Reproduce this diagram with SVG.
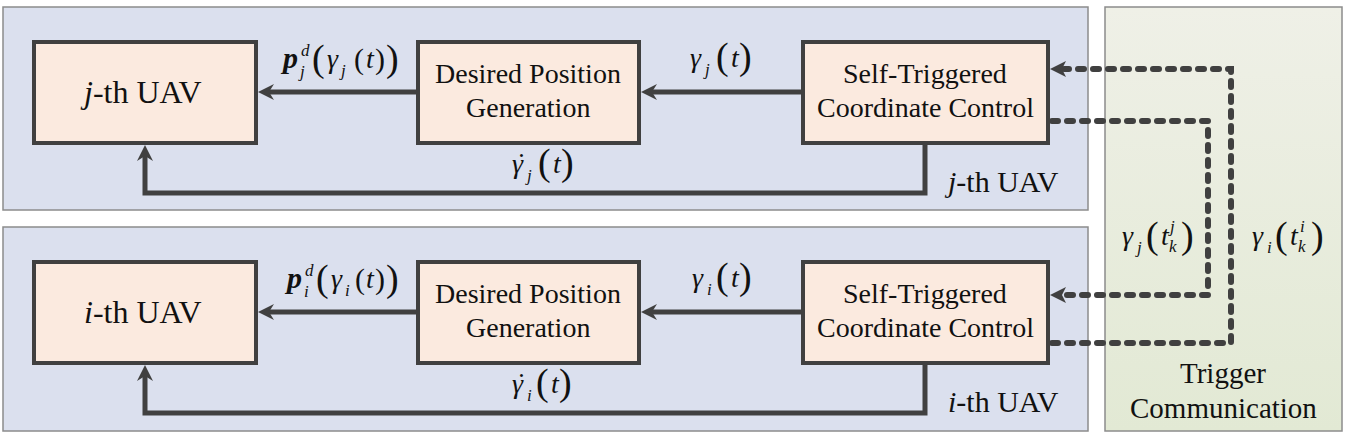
<svg xmlns="http://www.w3.org/2000/svg" width="1348" height="440" viewBox="0 0 1348 440" font-family="Liberation Serif, serif">
<defs>
<linearGradient id="gg" x1="0" y1="0" x2="0" y2="1"><stop offset="0" stop-color="#eff0e7"/><stop offset="1" stop-color="#e2e9d4"/></linearGradient>
<marker id="ah" markerUnits="userSpaceOnUse" markerWidth="18" markerHeight="16" refX="6" refY="8" orient="auto"><path d="M0,0 L16,8 L0,16 L5,8 z" fill="#404040"/></marker>
</defs>
<style>
.panel{fill:#dbe0ee;stroke:#8c8c8c;stroke-width:1.5}
.box{fill:#fbeadf;stroke:#404040;stroke-width:4}
.ln{fill:none;stroke:#404040;stroke-width:5}
.dl{fill:none;stroke:#404040;stroke-width:6;stroke-linecap:round;stroke-dasharray:6 9}
</style>
<g id="panel-j"><rect class="panel" x="3" y="7" width="1085" height="203"/><text x="948" y="192" font-family="Liberation Serif" font-size="30" fill="#111"><tspan font-style="italic">j</tspan>-th UAV</text></g>
<g id="panel-i"><rect class="panel" x="3" y="227" width="1085" height="204"/><text x="948" y="412" font-family="Liberation Serif" font-size="30" fill="#111"><tspan font-style="italic">i</tspan>-th UAV</text></g>
<g id="panel-trigger"><rect x="1105" y="7" width="237" height="424" fill="url(#gg)" stroke="#8c8c8c" stroke-width="1.5"/><text x="1180" y="383" font-family="Liberation Serif" font-size="29" fill="#111">Trigger</text><text x="1130" y="418" font-family="Liberation Serif" font-size="29" fill="#111">Communication</text></g>
<g id="uav-j"><rect class="box" x="34" y="42" width="222" height="101"/><text x="84" y="103" font-family="Liberation Serif" font-size="32" fill="#111"><tspan font-style="italic">j</tspan>-th UAV</text></g>
<g id="dpg-j"><rect class="box" x="418" y="42" width="221" height="101"/><text x="435" y="83" font-family="Liberation Serif" font-size="28" fill="#111">Desired Position</text><text x="466" y="117" font-family="Liberation Serif" font-size="28" fill="#111">Generation</text></g>
<g id="stcc-j"><rect class="box" x="803" y="42" width="245" height="101"/><text x="843" y="83" font-family="Liberation Serif" font-size="28" fill="#111">Self-Triggered</text><text x="817" y="117" font-family="Liberation Serif" font-size="28" fill="#111">Coordinate Control</text></g>
<g id="uav-i"><rect class="box" x="34" y="262" width="222" height="101"/><text x="84" y="323" font-family="Liberation Serif" font-size="32" fill="#111"><tspan font-style="italic">i</tspan>-th UAV</text></g>
<g id="dpg-i"><rect class="box" x="418" y="262" width="221" height="101"/><text x="435" y="303" font-family="Liberation Serif" font-size="28" fill="#111">Desired Position</text><text x="466" y="337" font-family="Liberation Serif" font-size="28" fill="#111">Generation</text></g>
<g id="stcc-i"><rect class="box" x="803" y="262" width="245" height="101"/><text x="843" y="303" font-family="Liberation Serif" font-size="28" fill="#111">Self-Triggered</text><text x="817" y="337" font-family="Liberation Serif" font-size="28" fill="#111">Coordinate Control</text></g>
<g id="connectors">
<path class="ln" d="M416,92 H268" marker-end="url(#ah)"/>
<path class="ln" d="M801,92 H651" marker-end="url(#ah)"/>
<path class="ln" d="M925,145 V193 H145 V155" marker-end="url(#ah)"/>
<path class="ln" d="M416,312 H268" marker-end="url(#ah)"/>
<path class="ln" d="M801,312 H651" marker-end="url(#ah)"/>
<path class="ln" d="M925,365 V413 H145 V375" marker-end="url(#ah)"/>
<path class="dl" d="M1052,121 H1208 V295 H1062"/>
<path class="dl" d="M1052,343 H1231 V69 H1064"/>
<path d="M1050,295 L1066,287 L1062,295 L1066,303 z" fill="#404040"/>
<path d="M1050,69 L1066,61 L1062,69 L1066,77 z" fill="#404040"/>
</g>
<g id="labels" font-family="Liberation Serif" fill="#111">
<text x="283" y="68" font-size="30" font-style="italic" font-weight="bold">p</text><text x="301" y="56" font-size="17" font-style="italic">d</text><text x="300" y="77" font-size="17" font-style="italic">j</text>
<text x="312" y="71" font-size="38">(</text><text x="327" y="68" font-size="28" font-style="italic">γ</text><text x="341" y="76" font-size="17" font-style="italic">j</text><text x="354" y="69" font-size="30">(</text><text x="366" y="68" font-size="28" font-style="italic">t</text><text x="375" y="69" font-size="30">)</text><text x="386" y="71" font-size="38">)</text>
<text x="690" y="67" font-size="28" font-style="italic">γ</text><text x="705" y="75" font-size="17" font-style="italic">j</text><text x="716" y="69" font-size="38">(</text><text x="731" y="67" font-size="28" font-style="italic">t</text><text x="739" y="69" font-size="38">)</text>
<text x="512" y="173" font-size="28" font-style="italic">γ<tspan dx="-8" dy="-1">˙</tspan></text><text x="527" y="181" font-size="17" font-style="italic">j</text><text x="538" y="175" font-size="38">(</text><text x="553" y="173" font-size="28" font-style="italic">t</text><text x="561" y="175" font-size="38">)</text>
<text x="287" y="288" font-size="30" font-style="italic" font-weight="bold">p</text><text x="305" y="276" font-size="17" font-style="italic">d</text><text x="304" y="297" font-size="17" font-style="italic">i</text>
<text x="316" y="291" font-size="38">(</text><text x="331" y="288" font-size="28" font-style="italic">γ</text><text x="345" y="296" font-size="17" font-style="italic">i</text><text x="355" y="289" font-size="30">(</text><text x="366" y="288" font-size="28" font-style="italic">t</text><text x="375" y="289" font-size="30">)</text><text x="386" y="291" font-size="38">)</text>
<text x="692" y="287" font-size="28" font-style="italic">γ</text><text x="707" y="295" font-size="17" font-style="italic">i</text><text x="716" y="289" font-size="38">(</text><text x="731" y="287" font-size="28" font-style="italic">t</text><text x="739" y="289" font-size="38">)</text>
<text x="512" y="393" font-size="28" font-style="italic">γ<tspan dx="-8" dy="-1">˙</tspan></text><text x="527" y="401" font-size="17" font-style="italic">i</text><text x="536" y="395" font-size="38">(</text><text x="551" y="393" font-size="28" font-style="italic">t</text><text x="559" y="395" font-size="38">)</text>
<text x="1122" y="245" font-size="28" font-style="italic">γ</text><text x="1137" y="253" font-size="17" font-style="italic">j</text><text x="1146" y="248" font-size="38">(</text><text x="1161" y="245" font-size="28" font-style="italic">t</text><text x="1170" y="232" font-size="17" font-style="italic">j</text><text x="1169" y="252" font-size="17" font-style="italic">k</text><text x="1181" y="248" font-size="38">)</text>
<text x="1252" y="245" font-size="28" font-style="italic">γ</text><text x="1267" y="253" font-size="17" font-style="italic">i</text><text x="1275" y="248" font-size="38">(</text><text x="1290" y="245" font-size="28" font-style="italic">t</text><text x="1300" y="232" font-size="17" font-style="italic">i</text><text x="1298" y="252" font-size="17" font-style="italic">k</text><text x="1311" y="248" font-size="38">)</text>
</g>
</svg>
